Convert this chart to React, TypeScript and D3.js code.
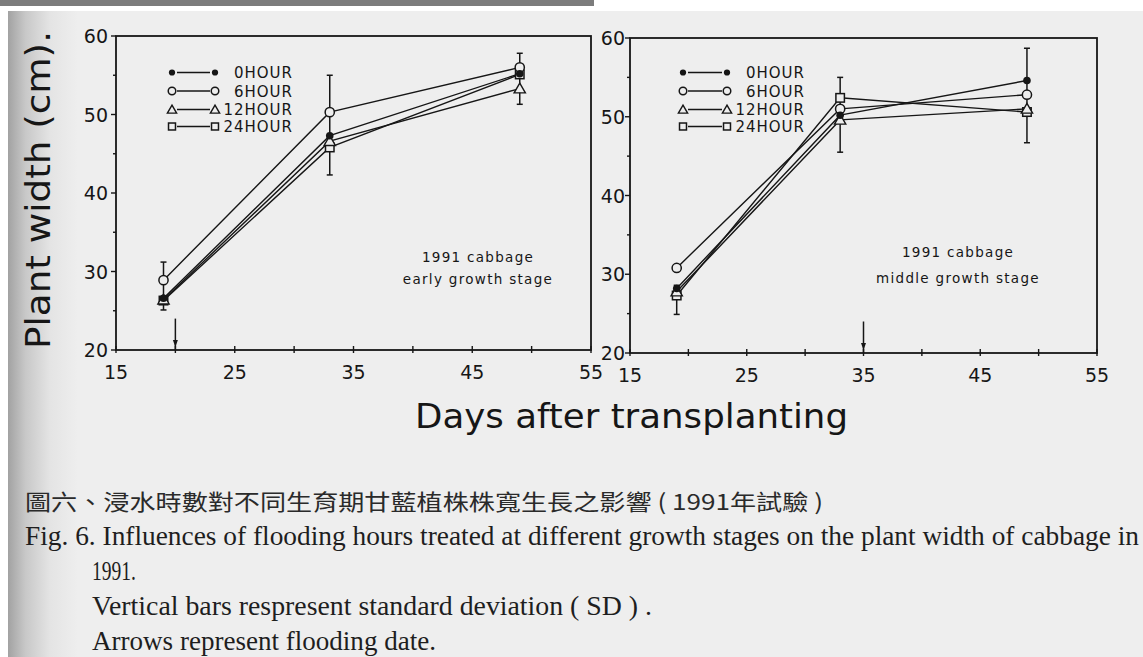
import React from "react";
import * as d3 from "d3";

// Sampling days (days after transplanting) shared by both panels
const DAYS = [19, 33, 49];
const TREATMENTS = ["0HOUR", "6HOUR", "12HOUR", "24HOUR"];
const MARKER_KINDS = ["filledCircle", "openCircle", "triangle", "square"];
const X_TICKS = [15, 25, 35, 45, 55];
const Y_TICKS = [20, 30, 40, 50, 60];
const MINOR_STEP = 5;

// Early growth stage, flooded on day 20
const EARLY_0H = [26.6, 47.3, 55.2];
const EARLY_6H = [28.9, 50.3, 56.0];
const EARLY_12H = [26.4, 46.6, 53.3];
const EARLY_24H = [26.3, 45.8, 55.1];
const EARLY_SD_LOW = [25.1, 42.3, 51.3];
const EARLY_SD_HIGH = [31.2, 55.0, 57.8];
const EARLY_FLOOD_DAY = 20;
const EARLY_NOTE = ["1991 cabbage", "early growth stage"];

// Middle growth stage, flooded on day 35
const MIDDLE_0H = [28.2, 50.2, 54.6];
const MIDDLE_6H = [30.8, 51.0, 52.8];
const MIDDLE_12H = [27.8, 49.6, 51.0];
const MIDDLE_24H = [27.3, 52.4, 50.6];
const MIDDLE_SD_LOW = [24.9, 45.5, 46.7];
const MIDDLE_SD_HIGH = [28.6, 55.0, 58.7];
const MIDDLE_FLOOD_DAY = 35;
const MIDDLE_NOTE = ["1991 cabbage", "middle growth stage"];

const ARROW_TOP = 24;

const Y_TITLE = "Plant width (cm).";
const X_TITLE = "Days after transplanting";
const CAPTION_ZH = "圖六、浸水時數對不同生育期甘藍植株株寬生長之影響 ( 1991年試驗 )";
const CAPTION_EN = [
  "Fig. 6. Influences of flooding hours treated at different growth stages on the plant width of cabbage in",
  "1991.",
  "Vertical bars respresent standard deviation ( SD ) .",
  "Arrows represent flooding date.",
];

const INK = "#161616";
const PAPER = "#eeeeee";
const SANS = "'DejaVu Sans', 'Liberation Sans', sans-serif";
const SERIF = "'Liberation Serif', 'DejaVu Serif', serif";
const CJK = "'Noto Sans CJK TC', 'Noto Sans CJK SC', sans-serif";

function Marker({ kind, cx, cy, scale = 1 }) {
  if (kind === "filledCircle") {
    return <circle cx={cx} cy={cy} r={3.8 * scale} fill={INK} />;
  }
  if (kind === "openCircle") {
    return <circle cx={cx} cy={cy} r={4.6 * scale} fill={PAPER} stroke={INK} strokeWidth={1.5} />;
  }
  if (kind === "triangle") {
    const p = d3.symbol(d3.symbolTriangle, 55 * scale * scale)();
    return <path d={p} transform={`translate(${cx},${cy + 1})`} fill={PAPER} stroke={INK} strokeWidth={1.4} />;
  }
  const s = 8.5 * scale;
  return <rect x={cx - s / 2} y={cy - s / 2} width={s} height={s} fill={PAPER} stroke={INK} strokeWidth={1.5} />;
}

function Panel({ frame, series, sdLow, sdHigh, floodDay, note, noteX, noteY, legend, yLabelGap }) {
  const { left, right, top, bottom } = frame;
  const x = d3.scaleLinear().domain([15, 55]).range([left, right]);
  const y = d3.scaleLinear().domain([20, 60]).range([bottom, top]);
  const line = d3
    .line()
    .x((_, i) => x(DAYS[i]))
    .y((v) => y(v));
  const minorX = d3.range(15, 55.01, MINOR_STEP);
  const minorY = d3.range(20, 60.01, MINOR_STEP);
  const legendRows = [72.5, 91, 109.5, 126.5];

  return (
    <g>
      {/* frame */}
      <rect x={left} y={top} width={right - left} height={bottom - top} fill="none" stroke={INK} strokeWidth={1.8} />

      {/* y ticks */}
      {minorY.map((v) => (
        <line key={`yt${v}`} x1={left - (v % 10 === 0 ? 5 : 3)} x2={left} y1={y(v)} y2={y(v)} stroke={INK} strokeWidth={1.4} />
      ))}
      {Y_TICKS.map((v) => (
        <text key={`yl${v}`} x={left - yLabelGap} y={y(v) + 7} textAnchor="end" fontFamily={SANS} fontSize={19} fill={INK}>
          {v}
        </text>
      ))}

      {/* x ticks */}
      {minorX.map((v) => (
        <line key={`xt${v}`} x1={x(v)} x2={x(v)} y1={bottom - 4} y2={bottom + 3} stroke={INK} strokeWidth={1.4} />
      ))}
      {X_TICKS.map((v) => (
        <text key={`xl${v}`} x={x(v)} y={bottom + 29} textAnchor="middle" fontFamily={SANS} fontSize={19} fill={INK}>
          {v}
        </text>
      ))}

      {/* flooding date arrow */}
      <line x1={x(floodDay)} x2={x(floodDay)} y1={y(ARROW_TOP)} y2={bottom} stroke={INK} strokeWidth={1.5} />
      <path
        d={`M${x(floodDay) - 2.5},${bottom - 10} L${x(floodDay) + 2.5},${bottom - 10} L${x(floodDay)},${bottom - 3} Z`}
        fill={INK}
      />

      {/* treatment lines */}
      {series.map((vals, k) => (
        <path key={`ln${k}`} d={line(vals)} fill="none" stroke={INK} strokeWidth={1.4} />
      ))}

      {/* standard deviation bars */}
      {DAYS.map((d, i) => (
        <g key={`sd${i}`} stroke={INK} strokeWidth={1.5}>
          <line x1={x(d)} x2={x(d)} y1={y(sdLow[i])} y2={y(sdHigh[i])} />
          <line x1={x(d) - 3} x2={x(d) + 3} y1={y(sdLow[i])} y2={y(sdLow[i])} />
          <line x1={x(d) - 3} x2={x(d) + 3} y1={y(sdHigh[i])} y2={y(sdHigh[i])} />
        </g>
      ))}

      {/* markers, drawn back to front */}
      {[3, 2, 1, 0].map((k) =>
        series[k].map((v, i) => <Marker key={`m${k}-${i}`} kind={MARKER_KINDS[k]} cx={x(DAYS[i])} cy={y(v)} />)
      )}

      {/* legend */}
      {TREATMENTS.map((name, k) => {
        const ly = legendRows[k];
        const lx = left + legend[0];
        const rx = left + legend[1];
        return (
          <g key={`lg${k}`}>
            <line x1={lx + 5} x2={rx - 5} y1={ly} y2={ly} stroke={INK} strokeWidth={1.5} />
            <Marker kind={MARKER_KINDS[k]} cx={lx} cy={ly} scale={0.82} />
            <Marker kind={MARKER_KINDS[k]} cx={rx} cy={ly} scale={0.82} />
            <text
              x={left + legend[2]}
              y={ly + 5.5}
              textAnchor="end"
              fontFamily={SANS}
              fontSize={15}
              letterSpacing={1}
              fill={INK}
            >
              {name}
            </text>
          </g>
        );
      })}

      {/* panel note */}
      {note.map((t, i) => (
        <text
          key={`nt${i}`}
          x={noteX}
          y={noteY[i]}
          textAnchor="middle"
          fontFamily={SANS}
          fontSize={13.5}
          letterSpacing={1.3}
          fill={INK}
        >
          {t}
        </text>
      ))}
    </g>
  );
}

export default function App() {
  const W = 1143;
  const H = 657;
  return (
    <svg
      width={W}
      height={H}
      viewBox={`0 0 ${W} ${H}`}
      style={{ position: "absolute", left: 0, top: 0, display: "block" }}
    >
      <defs>
        <linearGradient id="edgeShade" x1="0" x2="1" y1="0" y2="0">
          <stop offset="0" stopColor="#a2a2a2" />
          <stop offset="0.25" stopColor="#c8c8c8" />
          <stop offset="0.6" stopColor="#e4e4e4" />
          <stop offset="1" stopColor={PAPER} />
        </linearGradient>
      </defs>

      {/* page */}
      <rect x={0} y={0} width={W} height={H} fill="#ffffff" />
      <rect x={8} y={11} width={W - 8} height={H - 11} fill={PAPER} />
      <rect x={8} y={11} width={70} height={H - 11} fill="url(#edgeShade)" />
      <rect x={0} y={0} width={594} height={6} fill="#7c7c7c" />

      <Panel
        frame={{ left: 116, right: 591, top: 36, bottom: 350 }}
        series={[EARLY_0H, EARLY_6H, EARLY_12H, EARLY_24H]}
        sdLow={EARLY_SD_LOW}
        sdHigh={EARLY_SD_HIGH}
        floodDay={EARLY_FLOOD_DAY}
        note={EARLY_NOTE}
        noteX={478}
        noteY={[262, 284]}
        legend={[56, 99, 177]}
        yLabelGap={8}
      />
      <Panel
        frame={{ left: 630, right: 1097, top: 38, bottom: 353 }}
        series={[MIDDLE_0H, MIDDLE_6H, MIDDLE_12H, MIDDLE_24H]}
        sdLow={MIDDLE_SD_LOW}
        sdHigh={MIDDLE_SD_HIGH}
        floodDay={MIDDLE_FLOOD_DAY}
        note={MIDDLE_NOTE}
        noteX={958}
        noteY={[257, 283]}
        legend={[53, 97, 175]}
        yLabelGap={5}
      />

      {/* axis titles */}
      <text
        transform="translate(50,190) rotate(-90)"
        textAnchor="middle"
        fontFamily={SANS}
        fontSize={33}
        textLength={318}
        lengthAdjust="spacingAndGlyphs"
        fill={INK}
      >
        {Y_TITLE}
      </text>
      <text x={415} y={428} fontFamily={SANS} fontSize={33} textLength={433} lengthAdjust="spacingAndGlyphs" fill={INK}>
        {X_TITLE}
      </text>

      {/* figure caption */}
      <text x={25} y={510} fontFamily={CJK} fontSize={22} textLength={798} lengthAdjust="spacingAndGlyphs" fill="#2a2a2a">
        {CAPTION_ZH}
      </text>
      <text x={25} y={545} fontFamily={SERIF} fontSize={27} textLength={1114} lengthAdjust="spacingAndGlyphs" fill="#1e1e1e">
        {CAPTION_EN[0]}
      </text>
      <text x={92} y={580} fontFamily={SERIF} fontSize={27} textLength={44} lengthAdjust="spacingAndGlyphs" fill="#1e1e1e">
        {CAPTION_EN[1]}
      </text>
      <text x={92} y={615} fontFamily={SERIF} fontSize={27} textLength={560} lengthAdjust="spacingAndGlyphs" fill="#1e1e1e">
        {CAPTION_EN[2]}
      </text>
      <text x={92} y={650} fontFamily={SERIF} fontSize={27} textLength={344} lengthAdjust="spacingAndGlyphs" fill="#1e1e1e">
        {CAPTION_EN[3]}
      </text>
    </svg>
  );
}
